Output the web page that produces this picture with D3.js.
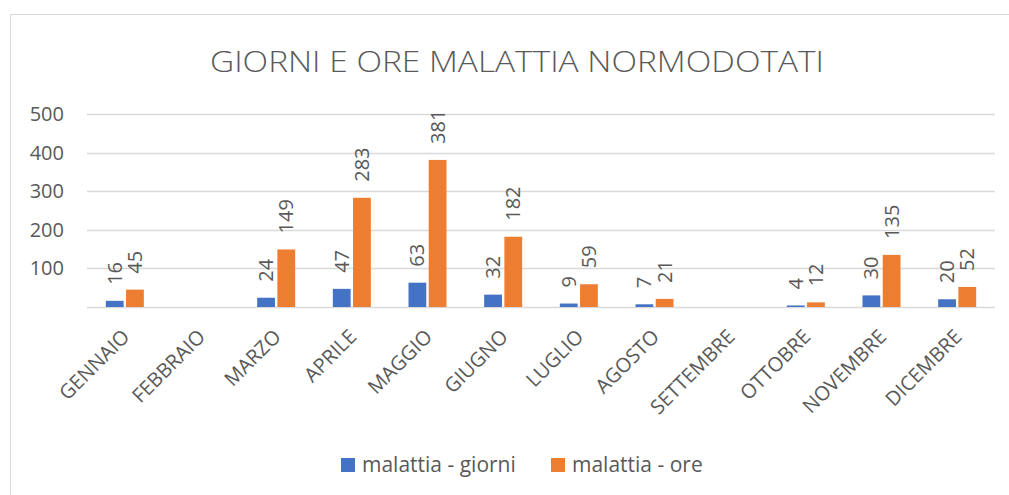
<!DOCTYPE html>
<html>
<head>
<meta charset="utf-8">
<script src="https://cdn.jsdelivr.net/npm/d3@7"></script>
<style>
  body { margin: 0; background: #fff; }
  svg text { font-family: "Open Sans", "Noto Sans", sans-serif; fill: #595959; }
</style>
</head>
<body>
<div id="chart"></div>
<script>
// data; null = no value for that month
const months = ['GENNAIO', 'FEBBRAIO', 'MARZO', 'APRILE', 'MAGGIO', 'GIUGNO', 'LUGLIO', 'AGOSTO', 'SETTEMBRE', 'OTTOBRE', 'NOVEMBRE', 'DICEMBRE'];
const giorni = [16, null, 24, 47, 63, 32, 9, 7, null, 4, 30, 20];
const ore = [45, null, 149, 283, 381, 182, 59, 21, null, 12, 135, 52];
const yTicks = [100, 200, 300, 400, 500];
const seriesNames = ['malattia - giorni', 'malattia - ore'];
const colors = ['#4472C4', '#ED7D31'];

const width = 1009, height = 495;
const margin = {top: 114, right: 14, bottom: 188, left: 87};

const svg = d3.select('#chart').append('svg')
    .attr('width', width)
    .attr('height', height);

// chart frame
svg.append('rect')
    .attr('x', 10.5).attr('y', 14.5)
    .attr('width', width + 20).attr('height', height + 20)
    .attr('fill', 'none')
    .attr('stroke', '#d9d9d9');

svg.append('text')
    .attr('x', 517).attr('y', 72)
    .attr('text-anchor', 'middle')
    .attr('textLength', 614)
    .attr('lengthAdjust', 'spacingAndGlyphs')
    .style('font-size', '29px')
    .style('font-weight', 300)
    .text('GIORNI E ORE MALATTIA NORMODOTATI');

const x = d3.scaleBand()
    .domain(months)
    .range([margin.left, width - margin.right]);

const x1 = d3.scaleBand()
    .domain([0, 1])
    .range([0, 38])
    .paddingInner(0.12);

const y = d3.scaleLinear()
    .domain([0, 500])
    .range([height - margin.bottom, margin.top]);

const g = svg.append('g');

// gridlines
g.selectAll('.grid')
    .data([0].concat(yTicks))
  .enter().append('line')
    .attr('x1', margin.left)
    .attr('x2', width - margin.right)
    .attr('y1', d => Math.round(y(d)) + 0.5)
    .attr('y2', d => Math.round(y(d)) + 0.5)
    .attr('stroke', '#d9d9d9')
    .attr('stroke-width', 1.5);

g.selectAll('.ytick')
    .data(yTicks)
  .enter().append('text')
    .attr('x', 64)
    .attr('y', d => y(d))
    .attr('dy', '0.35em')
    .attr('text-anchor', 'end')
    .style('font-size', '20px')
    .text(d => d);

const rows = months.map((m, i) => ({month: m, values: [giorni[i], ore[i]]}));

const groups = g.selectAll('.month')
    .data(rows)
  .enter().append('g')
    .attr('transform', d => `translate(${x(d.month) + x.bandwidth() / 2 - 19},0)`);

const cells = groups.selectAll('.cell')
    .data(d => d.values.map((v, k) => ({k, v})).filter(d => d.v !== null))
  .enter();

cells.append('rect')
    .attr('x', d => x1(d.k))
    .attr('width', x1.bandwidth())
    .attr('y', d => y(d.v))
    .attr('height', d => y(0) - y(d.v))
    .attr('fill', d => colors[d.k]);

cells.append('text')
    .attr('transform', d => `translate(${x1(d.k) + x1.bandwidth() / 2},${y(d.v) - 16}) rotate(-90)`)
    .attr('dy', '0.35em')
    .style('font-size', '20px')
    .text(d => d.v);

// category labels
g.selectAll('.xlab')
    .data(months)
  .enter().append('text')
    .attr('transform', d => `translate(${x(d) + x.bandwidth() / 2 + 6},${y(0) + 31}) rotate(-45)`)
    .attr('text-anchor', 'end')
    .style('font-size', '20px')
    .text(d => d);

// legend
const legend = svg.append('g');
const legendX = [341, 551];
seriesNames.forEach((name, k) => {
  legend.append('rect')
      .attr('x', legendX[k]).attr('y', 458)
      .attr('width', 14).attr('height', 14)
      .attr('fill', colors[k]);
  legend.append('text')
      .attr('x', legendX[k] + 21).attr('y', 465)
      .attr('dy', '0.35em')
      .style('font-size', '21px')
      .text(name);
});
</script>
</body>
</html>
